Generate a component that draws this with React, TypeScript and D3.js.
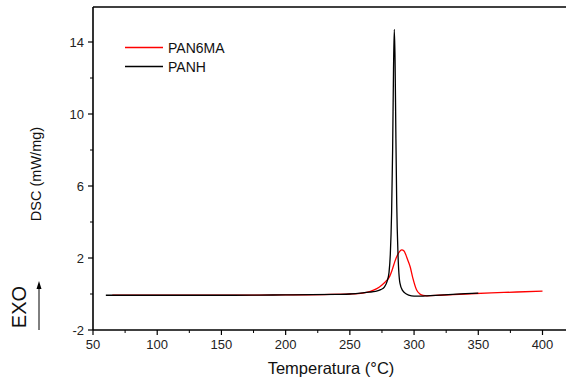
import * as d3 from "d3";
import { useRef, useEffect } from "react";

// PANH (black) - temperature (°C) and DSC (mW/mg)
const panhTemp = [60, 80, 100, 120, 140, 160, 180, 200, 220, 240, 250, 260, 265, 270, 274, 277, 279, 280.5, 281.5, 282.5, 283.3, 284, 284.6, 285.2, 285.8, 286.5, 287.5, 289, 291, 294, 298, 302, 306, 310, 320, 330, 340, 350];
const panhDsc = [-0.07, -0.07, -0.07, -0.07, -0.07, -0.07, -0.06, -0.05, -0.04, -0.02, 0.0, 0.06, 0.1, 0.15, 0.24, 0.4, 0.7, 1.2, 2.2, 4.5, 8, 12.5, 14.7, 13, 9, 5, 2.2, 0.6, 0.2, 0.0, -0.1, -0.12, -0.12, -0.1, -0.06, -0.02, 0.02, 0.05];

// PAN6MA (red)
const pan6maTemp = [65, 100, 150, 200, 230, 250, 260, 266, 271, 275, 278, 281, 283, 285, 287, 289, 290.5, 292, 293.5, 295, 297, 299, 302, 304.5, 307, 310, 320, 340, 360, 380, 400];
const pan6maDsc = [-0.07, -0.07, -0.07, -0.05, -0.03, 0.0, 0.05, 0.15, 0.3, 0.5, 0.7, 0.98, 1.35, 1.8, 2.15, 2.38, 2.45, 2.4, 2.2, 1.9, 1.5, 0.9, 0.22, 0.0, -0.08, -0.1, -0.07, 0.0, 0.06, 0.11, 0.16];

const xMajor = [50, 100, 150, 200, 250, 300, 350, 400];
const xMinor = [75, 125, 175, 225, 275, 325, 375];
const yMajor = [-2, 2, 6, 10, 14];
const yMinor = [0, 4, 8, 12];

const legendItems = [
  { name: "PAN6MA", color: "#ff0000" },
  { name: "PANH", color: "#000000" },
];

const font = "'Liberation Sans', Arial, sans-serif";

export default function App() {
  const svgRef = useRef<SVGSVGElement>(null);
  const width = 566;
  const height = 378;

  useEffect(() => {
    const svg = d3.select(svgRef.current);
    svg.selectAll("*").remove();

    const x = d3.scaleLinear().domain([50, 400]).range([93, 542.5]);
    const y = d3.scaleLinear().domain([-2, 16]).range([330, 6]);
    const left = 93, right = 570, top = 7, bottom = 330;

    // Axes frame
    svg.append("line").attr("x1", left).attr("x2", left).attr("y1", top).attr("y2", bottom)
      .attr("stroke", "#000").attr("stroke-width", 1.6);
    svg.append("line").attr("x1", left).attr("x2", right).attr("y1", bottom).attr("y2", bottom)
      .attr("stroke", "#000").attr("stroke-width", 1.6);
    svg.append("line").attr("x1", left).attr("x2", right).attr("y1", top).attr("y2", top)
      .attr("stroke", "#000").attr("stroke-width", 1.6);

    // X ticks
    xMajor.forEach((v) => {
      svg.append("line").attr("x1", x(v)).attr("x2", x(v)).attr("y1", bottom).attr("y2", bottom + 5)
        .attr("stroke", "#000").attr("stroke-width", 1.2);
      svg.append("text").attr("x", x(v)).attr("y", bottom + 19).attr("text-anchor", "middle")
        .style("font-family", font).style("font-size", "13px").attr("fill", "#222").text(v);
    });
    xMinor.forEach((v) => {
      svg.append("line").attr("x1", x(v)).attr("x2", x(v)).attr("y1", bottom).attr("y2", bottom + 3)
        .attr("stroke", "#000").attr("stroke-width", 1);
    });

    // Y ticks
    yMajor.forEach((v) => {
      svg.append("line").attr("x1", left).attr("x2", left - 5).attr("y1", y(v)).attr("y2", y(v))
        .attr("stroke", "#000").attr("stroke-width", 1.2);
      svg.append("text").attr("x", left - 9).attr("y", y(v) + 4.5).attr("text-anchor", "end")
        .style("font-family", font).style("font-size", "13px").attr("fill", "#222").text(v);
    });
    yMinor.forEach((v) => {
      svg.append("line").attr("x1", left).attr("x2", left - 3).attr("y1", y(v)).attr("y2", y(v))
        .attr("stroke", "#000").attr("stroke-width", 1);
    });

    // Curves
    const line = d3.line<[number, number]>()
      .x((d) => x(d[0]))
      .y((d) => y(d[1]))
      .curve(d3.curveMonotoneX);

    svg.append("path")
      .attr("d", line(pan6maTemp.map((t, i) => [t, pan6maDsc[i]] as [number, number])))
      .attr("fill", "none").attr("stroke", "#ff0000").attr("stroke-width", 1.3);
    svg.append("path")
      .attr("d", line(panhTemp.map((t, i) => [t, panhDsc[i]] as [number, number])))
      .attr("fill", "none").attr("stroke", "#000").attr("stroke-width", 1.3);

    // Legend
    legendItems.forEach((item, i) => {
      const ly = 47.5 + i * 19;
      svg.append("line").attr("x1", 125).attr("x2", 163).attr("y1", ly).attr("y2", ly)
        .attr("stroke", item.color).attr("stroke-width", 1.3);
      svg.append("text").attr("x", 168).attr("y", ly + 5).style("font-family", font)
        .style("font-size", "14px").attr("fill", "#111").text(item.name);
    });

    // Axis titles
    svg.append("text").attr("x", 331).attr("y", 374).attr("text-anchor", "middle")
      .style("font-family", font).style("font-size", "16.5px").attr("fill", "#111")
      .text("Temperatura (°C)");
    svg.append("text").attr("transform", "translate(41,174) rotate(-90)").attr("text-anchor", "middle")
      .style("font-family", font).style("font-size", "14.5px").attr("fill", "#111")
      .text("DSC (mW/mg)");

    // EXO marker
    svg.append("text").attr("transform", "translate(26,307) rotate(-90)").attr("text-anchor", "middle")
      .style("font-family", font).style("font-size", "20px").attr("fill", "#111").text("EXO");
    svg.append("line").attr("x1", 39).attr("x2", 39).attr("y1", 330).attr("y2", 286)
      .attr("stroke", "#000").attr("stroke-width", 1);
    svg.append("path").attr("d", "M39,281 L36.5,289 L41.5,289 Z").attr("fill", "#000");
  }, []);

  return (
    <svg ref={svgRef} width={width} height={height}
      style={{ position: "absolute", left: 0, top: 0, background: "#fff" }} />
  );
}
